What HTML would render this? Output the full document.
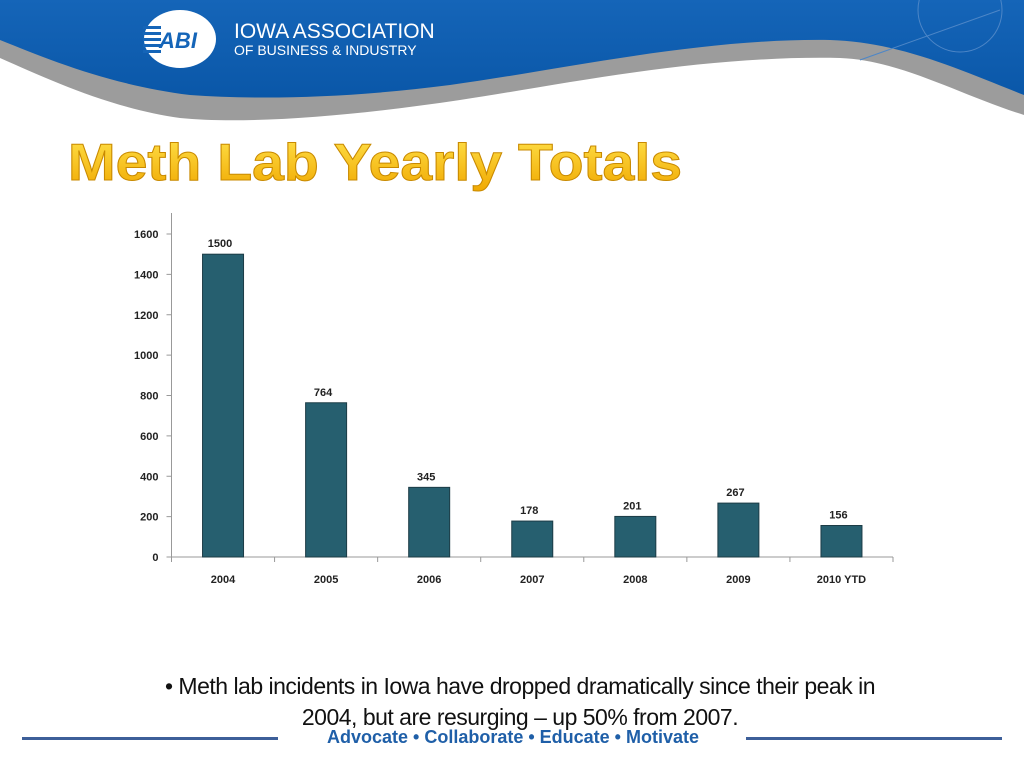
<!DOCTYPE html>
<html><head><meta charset="utf-8"><style>
html,body{margin:0;padding:0;background:#fff;}
body{width:1024px;height:768px;position:relative;overflow:hidden;font-family:"Liberation Sans",sans-serif;}
.abs{position:absolute;}
</style></head><body>
<svg class="abs" style="left:0;top:0" width="1024" height="130">
  <defs><linearGradient id="bl" x1="0" y1="0" x2="0" y2="1"><stop offset="0" stop-color="#1565b8"/><stop offset="1" stop-color="#0a57a8"/></linearGradient></defs>
  <path d="M0,0 H1024 V115 C960,95 900,60 840,58 C700,55 560,85 460,100 C360,115 250,125 180,118 C110,108 50,80 0,58 Z" fill="#9c9c9c"/>
  <path d="M0,0 H1024 V95 C960,70 900,42 830,40 C700,38 560,70 450,85 C350,98 260,100 190,95 C110,85 50,60 0,40 Z" fill="url(#bl)"/>
  <circle cx="960" cy="10" r="42" fill="none" stroke="#4d86c7" stroke-width="1"/>
  <line x1="860" y1="60" x2="1000" y2="10" stroke="#4d86c7" stroke-width="1"/>
  <ellipse cx="180" cy="39" rx="36" ry="29" fill="#fff"/>
  <g fill="#1565b8"><rect x="143" y="26" width="18" height="3"/><rect x="143" y="32" width="18" height="3"/><rect x="143" y="38" width="18" height="3"/><rect x="143" y="44" width="18" height="3"/><rect x="143" y="50" width="18" height="3"/></g>
  <text x="178" y="48" font-family="Liberation Sans" font-weight="bold" font-style="italic" font-size="22" fill="#1565b8" text-anchor="middle">ABI</text>
  <text x="234" y="38" font-family="Liberation Sans" font-size="21" fill="#fff">IOWA ASSOCIATION</text>
  <text x="234" y="55" font-family="Liberation Sans" font-size="14" fill="#fff">OF BUSINESS &amp; INDUSTRY</text>
</svg>
<svg class="abs" style="left:0;top:120" width="760" height="80">
  <defs><linearGradient id="yg" x1="0" y1="0" x2="0" y2="1"><stop offset="0" stop-color="#ffe14a"/><stop offset="1" stop-color="#f0a800"/></linearGradient></defs>
  <text x="68" y="60" font-family="Liberation Sans" font-weight="bold" font-size="52" fill="url(#yg)" stroke="#c98a00" stroke-width="1" textLength="614" lengthAdjust="spacingAndGlyphs">Meth Lab Yearly Totals</text>
</svg>
<svg class="abs" style="left:0;top:0" width="1024" height="768" id="chart"></svg>
<div class="abs" style="left:60px;top:671px;width:920px;text-align:center;font-size:23px;line-height:31px;color:#111;letter-spacing:-0.5px;">• Meth lab incidents in Iowa have dropped dramatically since their peak in<br>2004, but are resurging – up 50% from 2007.</div>
<div class="abs" style="left:22px;top:737px;width:256px;height:3px;background:#3d5f99;"></div>
<div class="abs" style="left:746px;top:737px;width:256px;height:3px;background:#3d5f99;"></div>
<div class="abs" style="left:290px;top:727px;width:446px;text-align:center;font-size:18px;font-weight:bold;color:#1f5fa8;letter-spacing:0px;">Advocate • Collaborate • Educate • Motivate</div>
<script>
const categories=["2004","2005","2006","2007","2008","2009","2010 YTD"];
const values=[1500,764,345,178,201,267,156];
const valueLabels=["1500","764","345","178","201","267","156"];
const yTicks=[0,200,400,600,800,1000,1200,1400,1600];
const svg=document.getElementById('chart');
const NS='http://www.w3.org/2000/svg';
const x0=171.5,x1=893,yBase=557,yTop=234,yMax=1600;
const bw=(x1-x0)/categories.length;
function y(v){return yBase-(v/yMax)*(yBase-yTop);}
function xc(i){return x0+bw*(i+0.5);}
function mk(t,a){const e=document.createElementNS(NS,t);for(const k in a)e.setAttribute(k,a[k]);svg.appendChild(e);return e;}
let ax=mk('line',{x1:x0,y1:213,x2:x0,y2:yBase,stroke:'#999','stroke-width':1});


let bx=mk('line',{x1:x0,y1:yBase,x2:x1,y2:yBase,stroke:'#999','stroke-width':1});


yTicks.forEach(v=>{
  mk('line',{x1:x0-5,y1:y(v),x2:x0,y2:y(v),stroke:'#999'});
  const t=mk('text',{x:x0-13,y:y(v)+4,'text-anchor':'end','font-size':11,'font-weight':'bold',fill:'#222'});
  t.textContent=v;
  
  
});
for(let i=0;i<=categories.length;i++){mk('line',{x1:x0+bw*i,y1:yBase,x2:x0+bw*i,y2:yBase+5,stroke:'#999'});}
categories.forEach((c,i)=>{
  const r=mk('rect',{x:xc(i)-20.5,y:y(values[i]),width:41,height:yBase-y(values[i]),fill:'#265f6f',stroke:'#1c3c46','stroke-width':1});
  
  
  const l=mk('text',{x:xc(i)-3,y:y(values[i])-7,'text-anchor':'middle','font-size':11,'font-weight':'bold',fill:'#222'});
  l.textContent=valueLabels[i];
  
  
  const t=mk('text',{x:xc(i),y:yBase+26,'text-anchor':'middle','font-size':11,'font-weight':'bold',fill:'#222'});
  t.textContent=c;
  
  
});
</script>
</body></html>
